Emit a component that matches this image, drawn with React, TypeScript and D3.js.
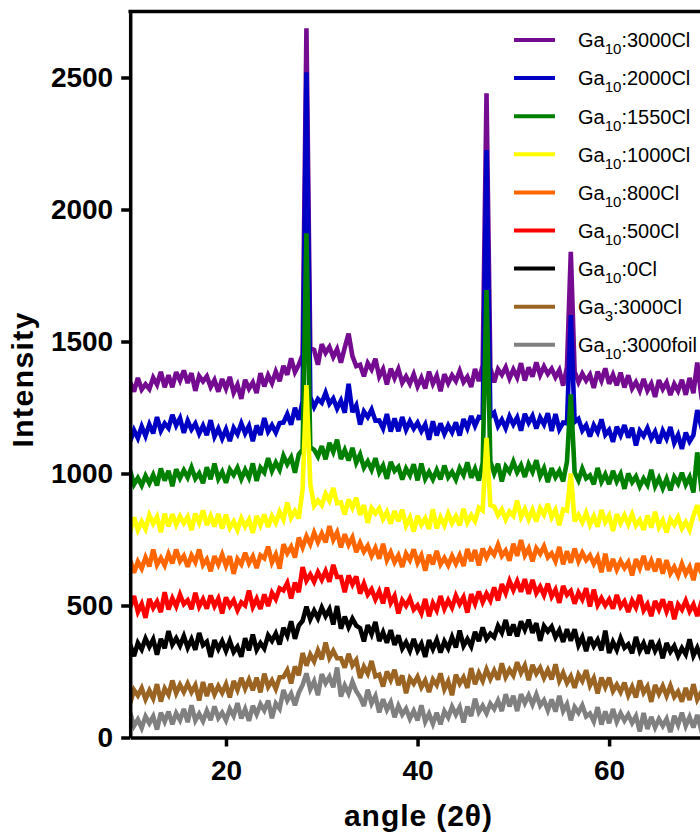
import React, { useEffect, useRef } from 'react';
import * as d3 from 'd3';

// 2θ grid: 10.0 … 70.0 in 0.4° steps (151 points)
const ANGLES: number[] = d3.range(151).map((i) => +(10 + 0.4 * i).toFixed(1));

const ga10_3000Cl = [
  1345, 1310, 1362, 1318, 1338, 1320, 1363, 1337, 1385, 1327,
  1372, 1327, 1384, 1352, 1390, 1343, 1380, 1313, 1369, 1349,
  1368, 1328, 1354, 1310, 1358, 1322, 1366, 1306, 1336, 1283,
  1355, 1321, 1345, 1305, 1380, 1330, 1372, 1342, 1386, 1350,
  1408, 1374, 1436, 1384, 1412, 1450, 2686, 1475, 1468, 1412,
  1490, 1457, 1479, 1441, 1471, 1420, 1477, 1530, 1445, 1407,
  1412, 1368, 1418, 1394, 1435, 1367, 1395, 1337, 1397, 1361,
  1395, 1344, 1368, 1340, 1376, 1330, 1362, 1322, 1386, 1340,
  1370, 1312, 1376, 1342, 1372, 1350, 1388, 1346, 1366, 1328,
  1396, 1350, 1410, 2440, 1400, 1345, 1395, 1374, 1402, 1360,
  1394, 1364, 1418, 1352, 1402, 1367, 1421, 1373, 1405, 1377,
  1397, 1365, 1391, 1333, 1403, 1840, 1386, 1346, 1378, 1352,
  1374, 1324, 1386, 1352, 1398, 1340, 1374, 1334, 1382, 1326,
  1372, 1322, 1346, 1314, 1358, 1314, 1340, 1290, 1354, 1320,
  1345, 1297, 1339, 1313, 1355, 1298, 1362, 1304, 1420, 1302,
  1325,
];

const ga10_2000Cl = [
  1122, 1164, 1134, 1178, 1142, 1186, 1152, 1214, 1162, 1190,
  1172, 1222, 1182, 1210, 1154, 1200, 1167, 1189, 1151, 1181,
  1145, 1202, 1140, 1170, 1132, 1167, 1123, 1173, 1149, 1190,
  1152, 1180, 1122, 1182, 1146, 1210, 1159, 1183, 1155, 1191,
  1193, 1225, 1185, 1249, 1203, 1275, 2520, 1290, 1252, 1282,
  1268, 1306, 1264, 1284, 1246, 1276, 1230, 1340, 1232, 1258,
  1185, 1235, 1214, 1242, 1200, 1201, 1171, 1225, 1159, 1209,
  1160, 1214, 1166, 1198, 1170, 1192, 1160, 1186, 1128, 1198,
  1144, 1190, 1150, 1182, 1156, 1194, 1144, 1206, 1172, 1218,
  1180, 1214, 1210, 2225, 1215, 1230, 1180, 1204, 1172, 1216,
  1186, 1212, 1162, 1226, 1192, 1218, 1170, 1212, 1186, 1228,
  1161, 1225, 1167, 1193, 1190, 1600, 1195, 1207, 1163, 1183,
  1140, 1183, 1157, 1205, 1147, 1165, 1120, 1177, 1145, 1183,
  1136, 1173, 1106, 1162, 1142, 1172, 1132, 1158, 1114, 1162,
  1132, 1176, 1116, 1146, 1093, 1155, 1121, 1145, 1240, 1180,
  1130,
];

const ga10_1550Cl = [
  1010, 959, 983, 955, 991, 963, 995, 955, 1019, 973,
  1010, 952, 1016, 982, 1012, 985, 1023, 981, 1001, 963,
  1024, 978, 1038, 980, 1006, 965, 1015, 994, 1022, 980,
  1014, 984, 1038, 972, 1022, 1004, 1058, 1010, 1042, 1014,
  1067, 1035, 1061, 1003, 1073, 1090, 1910, 1100, 1090, 1064,
  1104, 1054, 1116, 1082, 1128, 1055, 1089, 1049, 1097, 1041,
  1072, 1022, 1046, 1014, 1058, 1004, 1030, 980, 1044, 1010,
  1025, 977, 1019, 993, 1035, 974, 1038, 980, 1006, 978,
  1013, 978, 1030, 986, 1006, 977, 1020, 994, 1042, 984,
  1018, 973, 1040, 1695, 1045, 1000, 1037, 970, 1026, 1006,
  1045, 1005, 1031, 987, 1035, 1006, 1050, 990, 1020, 967,
  1020, 986, 1010, 970, 1045, 1300, 1004, 974, 1018, 982,
  993, 959, 1021, 969, 997, 960, 1010, 970, 998, 942,
  1000, 967, 989, 951, 981, 957, 1014, 952, 982, 944,
  980, 936, 986, 962, 1003, 958, 986, 928, 1080, 952,
  970,
];

const ga10_1000Cl = [
  780, 834, 786, 818, 790, 842, 810, 836, 778, 848,
  800, 846, 806, 838, 812, 836, 786, 848, 814, 860,
  805, 839, 799, 847, 791, 844, 794, 818, 786, 830,
  799, 825, 775, 839, 805, 845, 797, 839, 813, 855,
  826, 890, 832, 858, 830, 940, 1335, 960, 878, 898,
  880, 923, 897, 945, 887, 890, 845, 902, 870, 908,
  843, 880, 813, 869, 849, 868, 828, 854, 810, 858,
  819, 863, 803, 833, 780, 840, 806, 830, 790, 865,
  792, 834, 804, 848, 812, 838, 804, 866, 814, 842,
  820, 870, 860, 1135, 880, 875, 842, 864, 826, 856,
  840, 897, 835, 865, 827, 862, 818, 868, 844, 885,
  834, 862, 804, 864, 860, 1000, 819, 843, 815, 851,
  806, 838, 798, 862, 816, 840, 782, 846, 812, 842,
  808, 846, 804, 824, 786, 841, 795, 855, 797, 823,
  777, 827, 806, 834, 792, 816, 786, 840, 880, 824,
  805,
];

const ga10_800Cl = [
  672, 624, 666, 640, 682, 648, 712, 654, 680, 652,
  695, 660, 712, 668, 688, 647, 690, 664, 712, 654,
  675, 630, 687, 655, 693, 650, 687, 620, 676, 656,
  700, 660, 686, 642, 690, 679, 723, 663, 693, 640,
  732, 698, 722, 682, 757, 720, 762, 732, 776, 740,
  773, 739, 801, 749, 777, 720, 770, 730, 758, 702,
  737, 704, 726, 688, 718, 677, 734, 672, 702, 664,
  690, 646, 696, 672, 713, 662, 690, 632, 692, 656,
  707, 656, 680, 652, 688, 658, 690, 650, 714, 668,
  710, 652, 716, 682, 712, 692, 730, 688, 708, 670,
  734, 688, 748, 690, 716, 667, 717, 696, 724, 682,
  698, 668, 722, 656, 706, 662, 716, 668, 700, 672,
  690, 658, 684, 626, 696, 630, 676, 636, 668, 642,
  664, 614, 676, 642, 688, 635, 669, 629, 677, 621,
  672, 622, 646, 614, 658, 620, 646, 596, 660, 626,
  640,
];

const ga10_500Cl = [
  492, 536, 476, 506, 453, 525, 491, 515, 475, 550,
  485, 527, 497, 541, 505, 520, 486, 548, 496, 524,
  488, 538, 498, 526, 470, 531, 498, 520, 482, 512,
  500, 557, 495, 525, 487, 542, 498, 548, 524, 565,
  557, 585, 527, 587, 551, 645, 594, 618, 590, 626,
  598, 630, 590, 654, 608, 608, 550, 614, 580, 610,
  545, 583, 541, 561, 523, 554, 508, 568, 510, 536,
  470, 520, 499, 527, 485, 501, 471, 525, 459, 509,
  482, 536, 488, 520, 492, 537, 505, 531, 473, 543,
  507, 553, 513, 545, 519, 569, 519, 581, 547, 593,
  558, 592, 552, 600, 544, 597, 547, 571, 539, 583,
  534, 560, 510, 574, 540, 555, 507, 549, 523, 565,
  496, 560, 502, 528, 500, 523, 488, 540, 496, 516,
  475, 518, 492, 540, 482, 505, 460, 517, 485, 523,
  478, 515, 448, 504, 484, 518, 478, 504, 460, 508,
  480,
];

const ga10_0Cl = [
  352, 308, 358, 334, 375, 344, 372, 314, 374, 338,
  403, 352, 376, 348, 384, 340, 372, 332, 396, 350,
  363, 305, 369, 335, 365, 328, 366, 324, 344, 306,
  376, 330, 390, 332, 358, 337, 387, 366, 394, 352,
  416, 386, 440, 374, 424, 442, 496, 448, 480, 452,
  492, 460, 486, 428, 498, 412, 458, 418, 450, 424,
  414, 364, 426, 392, 438, 365, 399, 359, 407, 351,
  387, 337, 361, 329, 373, 329, 355, 305, 369, 335,
  370, 322, 364, 338, 380, 341, 405, 347, 373, 345,
  400, 365, 417, 373, 393, 380, 423, 397, 445, 387,
  428, 383, 440, 408, 446, 396, 433, 366, 422, 402,
  420, 380, 406, 362, 410, 366, 410, 350, 380, 327,
  380, 346, 370, 330, 405, 320, 362, 332, 376, 340,
  353, 319, 381, 329, 357, 318, 368, 328, 356, 300,
  358, 325, 347, 309, 339, 315, 372, 310, 340, 302,
  335,
];

const ga3_3000Cl = [
  130, 180, 159, 187, 145, 178, 148, 202, 136, 186,
  162, 216, 168, 200, 172, 204, 172, 198, 140, 210,
  157, 203, 163, 195, 169, 202, 152, 214, 180, 226,
  185, 219, 179, 227, 171, 242, 192, 216, 184, 228,
  229, 255, 205, 269, 235, 320, 272, 314, 288, 330,
  296, 360, 302, 328, 300, 300, 265, 317, 273, 293,
  225, 268, 242, 290, 232, 238, 193, 250, 218, 256,
  198, 235, 168, 224, 204, 230, 190, 216, 172, 220,
  199, 243, 183, 213, 160, 238, 204, 228, 188, 263,
  202, 244, 214, 258, 222, 253, 219, 281, 229, 257,
  235, 285, 245, 273, 217, 275, 242, 264, 226, 256,
  220, 277, 215, 245, 207, 232, 188, 238, 214, 255,
  197, 225, 167, 227, 191, 227, 176, 200, 172, 208,
  160, 192, 152, 216, 170, 193, 135, 199, 165, 195,
  158, 196, 154, 174, 136, 188, 142, 202, 144, 170,
  155,
];

const ga10_3000foil = [
  94, 44, 68, 36, 80, 54, 80, 30, 94, 60,
  98, 50, 92, 66, 108, 58, 122, 64, 90, 62,
  101, 66, 118, 74, 94, 65, 108, 82, 130, 72,
  108, 63, 120, 88, 126, 103, 140, 73, 129, 109,
  180, 140, 166, 122, 170, 199, 243, 183, 213, 160,
  240, 206, 230, 190, 265, 155, 197, 167, 211, 175,
  153, 119, 181, 129, 157, 95, 145, 105, 133, 77,
  120, 87, 109, 71, 101, 65, 122, 60, 90, 52,
  94, 50, 100, 76, 117, 87, 115, 57, 117, 81,
  147, 96, 120, 92, 128, 108, 140, 100, 164, 118,
  158, 100, 164, 130, 160, 125, 163, 121, 141, 103,
  144, 98, 158, 100, 126, 65, 115, 94, 122, 80,
  91, 61, 115, 49, 99, 54, 108, 60, 92, 64,
  87, 55, 81, 23, 93, 32, 78, 38, 70, 44,
  70, 20, 82, 48, 94, 44, 78, 38, 86, 30,
  55,
];

const SERIES_DATA = [ga10_3000Cl, ga10_2000Cl, ga10_1550Cl, ga10_1000Cl, ga10_800Cl, ga10_500Cl, ga10_0Cl, ga3_3000Cl, ga10_3000foil];
const SERIES_COLORS = ['#740b91', '#0000c4', '#008000', '#ffff00', '#ff6600', '#ff0000', '#000000', '#9b6423', '#808080'];
const LABEL_MAIN = ['Ga', 'Ga', 'Ga', 'Ga', 'Ga', 'Ga', 'Ga', 'Ga', 'Ga'];
const LABEL_SUB = ['10', '10', '10', '10', '10', '10', '10', '3', '10'];
const LABEL_REST = [':3000Cl', ':2000Cl', ':1550Cl', ':1000Cl', ':800Cl', ':500Cl', ':0Cl', ':3000Cl', ':3000foil'];

const X_TICKS = [20, 40, 60];
const Y_TICKS = [0, 500, 1000, 1500, 2000, 2500];

const FONT = "'Liberation Sans', Arial, Helvetica, sans-serif";

export default function App() {
  const ref = useRef<SVGSVGElement>(null);

  useEffect(() => {
    const svg = d3.select(ref.current);
    svg.selectAll('*').remove();

    const left = 130.2, right = 704.9, top = 11.5, bottom = 737.5;
    const x = d3.scaleLinear().domain([10, 70]).range([left, right]);
    const y = d3.scaleLinear().domain([0, 2750]).range([bottom, top]);

    svg.append('defs').append('clipPath').attr('id', 'plotclip')
      .append('rect').attr('x', left).attr('y', 0).attr('width', 700 - left).attr('height', bottom);

    const g = svg.append('g').attr('clip-path', 'url(#plotclip)');
    const line = d3.line<number>().x((_, i) => x(ANGLES[i])).y((d) => y(d));
    SERIES_DATA.forEach((vals, k) => {
      g.append('path')
        .attr('d', line(vals))
        .attr('fill', 'none')
        .attr('stroke', SERIES_COLORS[k])
        .attr('stroke-width', 4.6)
        .attr('stroke-linejoin', 'miter')
        .attr('stroke-miterlimit', 3);
    });

    // top frame line
    svg.append('line').attr('x1', left - 1.75).attr('x2', 700).attr('y1', top).attr('y2', top)
      .attr('stroke', '#000').attr('stroke-width', 3.5);

    const yAxis = d3.axisLeft(y).tickValues(Y_TICKS).tickSize(9).tickSizeOuter(0).tickPadding(8).tickFormat(d3.format('d'));
    const ya = svg.append('g').attr('transform', `translate(${left},0)`).call(yAxis);
    const xAxis = d3.axisBottom(x).tickValues(X_TICKS).tickSize(9).tickSizeOuter(0).tickPadding(13.5).tickFormat(d3.format('d'));
    const xa = svg.append('g').attr('transform', `translate(0,${bottom})`).call(xAxis);
    [ya, xa].forEach((a) => {
      a.select('.domain').attr('stroke', '#000').attr('stroke-width', 3.5);
      a.selectAll('.tick line').attr('stroke', '#000').attr('stroke-width', 3.5);
      a.selectAll('.tick text').attr('fill', '#000').attr('font-family', FONT).attr('font-weight', 'bold').attr('font-size', 28);
    });

    svg.append('text')
      .attr('transform', 'translate(33,380) rotate(-90)')
      .attr('text-anchor', 'middle')
      .attr('font-family', FONT).attr('font-weight', 'bold').attr('font-size', 30)
      .attr('textLength', 135).attr('lengthAdjust', 'spacing')
      .text('Intensity');

    svg.append('text')
      .attr('x', 418).attr('y', 826)
      .attr('text-anchor', 'middle')
      .attr('font-family', FONT).attr('font-weight', 'bold').attr('font-size', 30)
      .attr('textLength', 148).attr('lengthAdjust', 'spacing')
      .text('angle (2θ)');

    const leg = svg.append('g');
    SERIES_DATA.forEach((_, k) => {
      const ly = 40 + 38.1 * k;
      leg.append('line').attr('x1', 514).attr('x2', 555).attr('y1', ly).attr('y2', ly)
        .attr('stroke', SERIES_COLORS[k]).attr('stroke-width', 4);
      const t = leg.append('text').attr('x', 578).attr('y', ly + 7.3)
        .attr('font-family', FONT).attr('font-size', 20).attr('fill', '#000');
      t.append('tspan').text(LABEL_MAIN[k]);
      t.append('tspan').attr('font-size', 15).attr('dy', 7).text(LABEL_SUB[k]);
      t.append('tspan').attr('dy', -7).text(LABEL_REST[k]);
    });
  }, []);

  return (
    <svg
      ref={ref}
      width={700}
      height={836}
      style={{ position: 'absolute', left: 0, top: 0, background: '#fff' }}
    />
  );
}
